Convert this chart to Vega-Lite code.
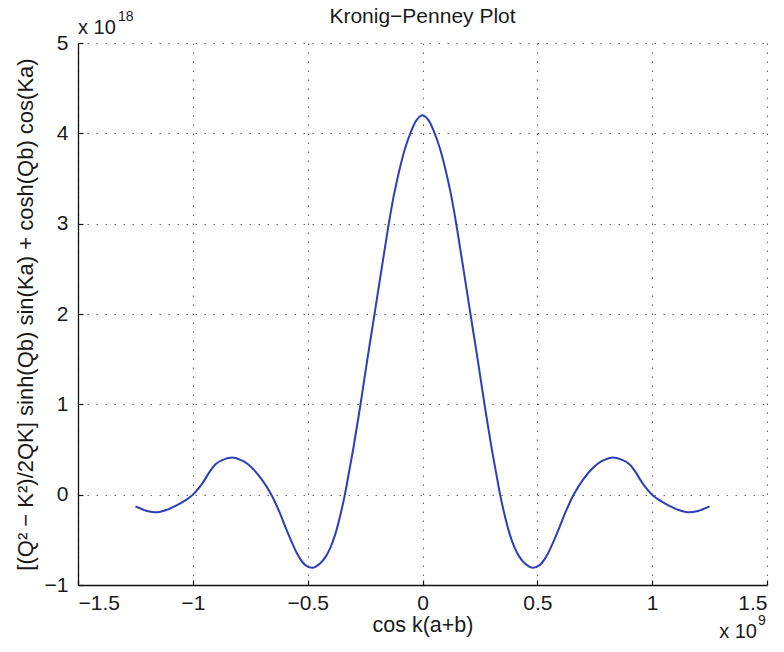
{
  "$schema": "https://vega.github.io/schema/vega-lite/v6.json",
  "autosize": "none",
  "padding": {"left": 78, "top": 43, "right": 17, "bottom": 67},
  "width": 689,
  "height": 542,
  "background": "white",
  "config": {
    "font": "Liberation Sans",
    "view": {"stroke": null},
    "axis": {
      "domainColor": "#111",
      "domainWidth": 1.3,
      "tickColor": "#111",
      "tickWidth": 1.2,
      "tickSize": -5,
      "gridColor": "#444",
      "gridDash": [1.5, 7.5],
      "gridWidth": 1.1,
      "gridOpacity": 0.8,
      "labelFont": "Liberation Sans",
      "labelFontSize": 21,
      "labelColor": "#1a1a1a",
      "titleFont": "Liberation Sans",
      "titleFontSize": 21.5,
      "titleFontWeight": "normal",
      "titleColor": "#1a1a1a"
    },
    "title": {"font": "Liberation Sans", "fontSize": 21, "fontWeight": "normal", "color": "#1a1a1a"}
  },
  "title": {"text": "Kronig−Penney Plot", "offset": -17},
  "layer": [
    {
      "data": {
        "values": [
          {"x": -1.25, "y": -0.13},
          {"x": -1.2, "y": -0.18},
          {"x": -1.155, "y": -0.195},
          {"x": -1.11, "y": -0.165},
          {"x": -1.075, "y": -0.125},
          {"x": -1.04, "y": -0.075},
          {"x": -1.0, "y": 0.0},
          {"x": -0.96, "y": 0.12},
          {"x": -0.925, "y": 0.26},
          {"x": -0.9, "y": 0.34},
          {"x": -0.87, "y": 0.385},
          {"x": -0.824, "y": 0.41},
          {"x": -0.78, "y": 0.37},
          {"x": -0.744, "y": 0.3},
          {"x": -0.7, "y": 0.17},
          {"x": -0.658, "y": 0.0},
          {"x": -0.625, "y": -0.18},
          {"x": -0.595, "y": -0.37},
          {"x": -0.565, "y": -0.55},
          {"x": -0.54, "y": -0.68},
          {"x": -0.51, "y": -0.78},
          {"x": -0.478, "y": -0.81},
          {"x": -0.445, "y": -0.76},
          {"x": -0.42, "y": -0.68},
          {"x": -0.4, "y": -0.58},
          {"x": -0.38, "y": -0.44},
          {"x": -0.36, "y": -0.25},
          {"x": -0.338, "y": 0.0},
          {"x": -0.32, "y": 0.25},
          {"x": -0.3, "y": 0.53},
          {"x": -0.27, "y": 1.0},
          {"x": -0.24, "y": 1.5},
          {"x": -0.207, "y": 2.03},
          {"x": -0.175, "y": 2.55},
          {"x": -0.15, "y": 2.95},
          {"x": -0.125, "y": 3.31},
          {"x": -0.1, "y": 3.6},
          {"x": -0.075, "y": 3.84},
          {"x": -0.05, "y": 4.02},
          {"x": -0.025, "y": 4.15},
          {"x": 0.0, "y": 4.2},
          {"x": 0.025, "y": 4.15},
          {"x": 0.05, "y": 4.02},
          {"x": 0.075, "y": 3.84},
          {"x": 0.1, "y": 3.6},
          {"x": 0.125, "y": 3.31},
          {"x": 0.15, "y": 2.95},
          {"x": 0.175, "y": 2.55},
          {"x": 0.207, "y": 2.03},
          {"x": 0.24, "y": 1.5},
          {"x": 0.27, "y": 1.0},
          {"x": 0.3, "y": 0.53},
          {"x": 0.32, "y": 0.25},
          {"x": 0.338, "y": 0.0},
          {"x": 0.36, "y": -0.25},
          {"x": 0.38, "y": -0.44},
          {"x": 0.4, "y": -0.58},
          {"x": 0.42, "y": -0.68},
          {"x": 0.445, "y": -0.76},
          {"x": 0.478, "y": -0.81},
          {"x": 0.51, "y": -0.78},
          {"x": 0.54, "y": -0.68},
          {"x": 0.565, "y": -0.55},
          {"x": 0.595, "y": -0.37},
          {"x": 0.625, "y": -0.18},
          {"x": 0.658, "y": 0.0},
          {"x": 0.7, "y": 0.17},
          {"x": 0.744, "y": 0.3},
          {"x": 0.78, "y": 0.37},
          {"x": 0.824, "y": 0.41},
          {"x": 0.87, "y": 0.385},
          {"x": 0.9, "y": 0.34},
          {"x": 0.925, "y": 0.26},
          {"x": 0.96, "y": 0.12},
          {"x": 1.0, "y": 0.0},
          {"x": 1.04, "y": -0.075},
          {"x": 1.075, "y": -0.125},
          {"x": 1.11, "y": -0.165},
          {"x": 1.155, "y": -0.195},
          {"x": 1.2, "y": -0.18},
          {"x": 1.25, "y": -0.13}
        ]
      },
      "mark": {"type": "line", "color": "#2c3fb5", "strokeWidth": 2, "interpolate": "catmull-rom"},
      "encoding": {
        "x": {
          "field": "x", "type": "quantitative",
          "scale": {"domain": [-1.5, 1.5], "nice": false, "zero": false},
          "axis": {
            "values": [-1.5, -1, -0.5, 0, 0.5, 1, 1.5],
            "format": "~g",
            "title": "cos k(a+b)",
            "labelPadding": 12,
            "titlePadding": 1
          }
        },
        "y": {
          "field": "y", "type": "quantitative",
          "scale": {"domain": [-1, 5], "nice": false, "zero": false},
          "axis": {
            "values": [-1, 0, 1, 2, 3, 4, 5],
            "format": "~g",
            "title": "[(Q² − K²)/2QK] sinh(Qb) sin(Ka) + cosh(Qb) cos(Ka)",
            "titleFontSize": 22,
            "labelPadding": 15,
            "titlePadding": 7
          }
        }
      }
    },
    {
      "data": {"values": [{"t": "x 10"}]},
      "mark": {"type": "text", "align": "left", "baseline": "middle", "fontSize": 20, "fontWeight": "normal", "dx": 0, "dy": -15, "color": "#1a1a1a", "font": "Liberation Sans"},
      "encoding": {"x": {"datum": -1.5}, "y": {"datum": 5}, "text": {"field": "t"}}
    },
    {
      "data": {"values": [{"t": "18"}]},
      "mark": {"type": "text", "align": "left", "baseline": "middle", "fontSize": 14, "fontWeight": "normal", "dx": 40, "dy": -26, "color": "#1a1a1a", "font": "Liberation Sans"},
      "encoding": {"x": {"datum": -1.5}, "y": {"datum": 5}, "text": {"field": "t"}}
    },
    {
      "data": {"values": [{"t": "x 10"}]},
      "mark": {"type": "text", "align": "right", "baseline": "middle", "fontSize": 20, "fontWeight": "normal", "dx": -10, "dy": 47, "color": "#1a1a1a", "font": "Liberation Sans"},
      "encoding": {"x": {"datum": 1.5}, "y": {"datum": -1}, "text": {"field": "t"}}
    },
    {
      "data": {"values": [{"t": "9"}]},
      "mark": {"type": "text", "align": "left", "baseline": "middle", "fontSize": 14, "fontWeight": "normal", "dx": -9, "dy": 36, "color": "#1a1a1a", "font": "Liberation Sans"},
      "encoding": {"x": {"datum": 1.5}, "y": {"datum": -1}, "text": {"field": "t"}}
    }
  ]
}
